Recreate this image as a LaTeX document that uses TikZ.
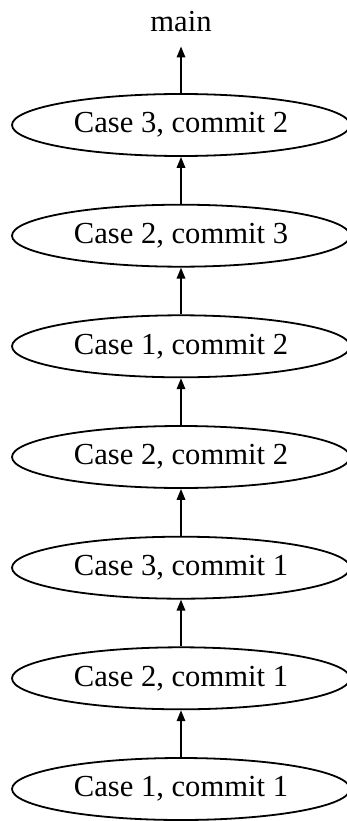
\documentclass[tikz,border=0pt]{standalone}
\usepackage{fontspec}
\setmainfont{Liberation Serif}
\usetikzlibrary{shapes.geometric,arrows.meta}
\begin{document}
\begin{tikzpicture}[x=1pt,y=-1pt,
  commit/.style={ellipse,draw,line width=1.8pt,minimum width=338pt,minimum height=62pt,inner sep=0pt,font=\fontsize{30.6}{36}\selectfont},
  lbl/.style={inner sep=0pt,font=\fontsize{30.6}{36}\selectfont},
  edge/.style={line width=1.8pt,-{Triangle[length=11pt,width=8.5pt]}}]
\useasboundingbox (0,0) rectangle (347,821);
\node[lbl,anchor=base] (main) at (181,32) {main};
\node[commit] (c32) at (181,125) {Case 3, commit 2};
\node[commit] (c23) at (181,235.7) {Case 2, commit 3};
\node[commit] (c12) at (181,346.3) {Case 1, commit 2};
\node[commit] (c22) at (181,457) {Case 2, commit 2};
\node[commit] (c31) at (181,567.7) {Case 3, commit 1};
\node[commit] (c21) at (181,678.3) {Case 2, commit 1};
\node[commit] (c11) at (181,789) {Case 1, commit 1};
\draw[edge,shorten >=14pt] (c32.north) -- (main.south);
\draw[edge] (c23.north) -- (c32.south);
\draw[edge] (c12.north) -- (c23.south);
\draw[edge] (c22.north) -- (c12.south);
\draw[edge] (c31.north) -- (c22.south);
\draw[edge] (c21.north) -- (c31.south);
\draw[edge] (c11.north) -- (c21.south);
\end{tikzpicture}
\end{document}
